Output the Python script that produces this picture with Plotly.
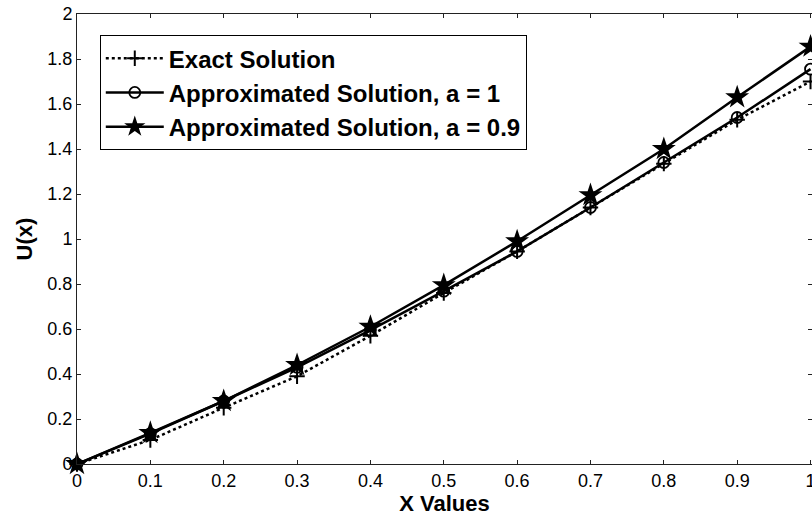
import plotly.graph_objects as go

x_values = [0, 0.1, 0.2, 0.3, 0.4, 0.5, 0.6, 0.7, 0.8, 0.9, 1.0]
exact = [0, 0.107, 0.25, 0.39, 0.57, 0.76, 0.945, 1.14, 1.335, 1.53, 1.70]
approx_a1 = [0, 0.135, 0.28, 0.43, 0.595, 0.768, 0.945, 1.14, 1.34, 1.54, 1.755]
approx_a09 = [0, 0.138, 0.28, 0.44, 0.61, 0.795, 0.99, 1.195, 1.40, 1.63, 1.855]

x_ticks = [0, 0.1, 0.2, 0.3, 0.4, 0.5, 0.6, 0.7, 0.8, 0.9, 1]
x_tick_labels = ["0", "0.1", "0.2", "0.3", "0.4", "0.5", "0.6", "0.7", "0.8", "0.9", "1"]
y_ticks = [0, 0.2, 0.4, 0.6, 0.8, 1.0, 1.2, 1.4, 1.6, 1.8, 2.0]
y_tick_labels = ["0", "0.2", "0.4", "0.6", "0.8", "1", "1.2", "1.4", "1.6", "1.8", "2"]

FONT = "Liberation Sans, Arial, sans-serif"

fig = go.Figure()
fig.add_trace(go.Scatter(
    x=x_values, y=exact, name="Exact Solution", mode="lines+markers", cliponaxis=False,
    line=dict(color="black", width=2.5, dash="dot"),
    marker=dict(symbol="cross-thin", size=11, line=dict(color="black", width=2), color="black"),
))
fig.add_trace(go.Scatter(
    x=x_values, y=approx_a1, name="Approximated Solution, a = 1", mode="lines+markers", cliponaxis=False,
    line=dict(color="black", width=2.5),
    marker=dict(symbol="circle-open", size=11, line=dict(color="black", width=1.8), color="black"),
))
fig.add_trace(go.Scatter(
    x=x_values, y=approx_a09, name="Approximated Solution, a = 0.9", mode="lines+markers", cliponaxis=False,
    line=dict(color="black", width=2.5),
    marker=dict(symbol="star", size=18, color="black", line=dict(width=0)),
))

axis_common = dict(
    showline=True, linecolor="#222222", linewidth=1, mirror="ticks",
    ticks="inside", ticklen=4, tickcolor="#222222", tickwidth=1,
    showgrid=False, zeroline=False, automargin=False,
    ticklabeloverflow="allow",
    tickfont=dict(family=FONT, size=18, color="black"),
)

fig.update_xaxes(
    range=[0, 1.002], tickvals=x_ticks, ticktext=x_tick_labels,
    title=dict(text="<b>X Values</b>", font=dict(family=FONT, size=22, color="black"), standoff=2),
    **axis_common,
)
fig.update_yaxes(
    range=[0, 2], tickvals=y_ticks, ticktext=y_tick_labels,
    title=dict(text="<b>U(x)</b>", font=dict(family=FONT, size=22, color="black"), standoff=8),
    **axis_common,
)

fig.update_layout(
    width=812, height=517,
    margin=dict(l=77, r=0, t=14, b=53),
    paper_bgcolor="white", plot_bgcolor="white",
    showlegend=True,
    legend=dict(
        x=0.031, y=0.953, xanchor="left", yanchor="top",
        bgcolor="white", bordercolor="black", borderwidth=1,
        font=dict(family=FONT, size=24, color="black", weight="bold"),
        tracegroupgap=0, itemwidth=58,
    ),
)

fig.write_html("out.html", config={"displayModeBar": False},
               post_script="document.body.style.margin='0';")
